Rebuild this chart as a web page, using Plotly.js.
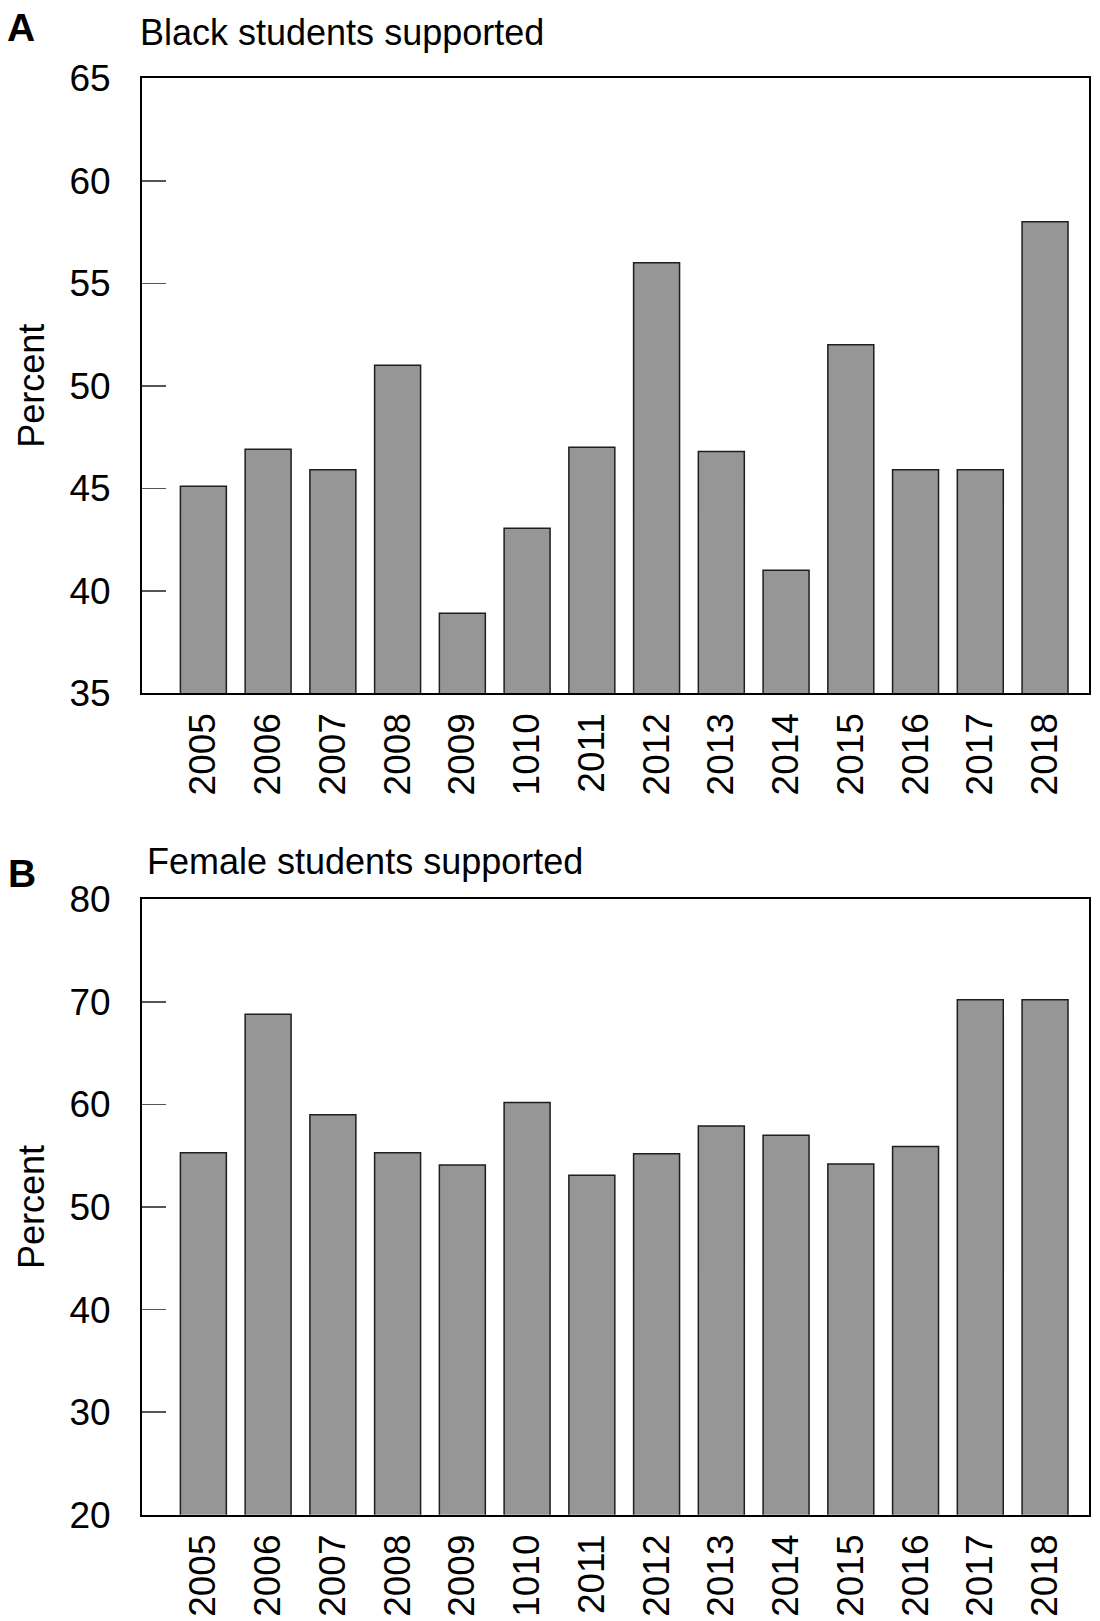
<!DOCTYPE html>
<html>
<head>
<meta charset="utf-8">
<script src="https://cdn.plot.ly/plotly-3.0.1.min.js"></script>
<style>
  html, body { margin: 0; padding: 0; background: #fff; }
  #chart { width: 1100px; height: 1621px; }
</style>
</head>
<body>
<div id="chart"></div>
<script>
// Data
const years = ["2005", "2006", "2007", "2008", "2009", "1010", "2011", "2012", "2013", "2014", "2015", "2016", "2017", "2018"];
const blackPct = [45.1, 46.9, 45.9, 51.0, 38.9, 43.05, 47.0, 56.0, 46.8, 41.0, 52.0, 45.9, 45.9, 58.0];
const femalePct = [55.3, 68.8, 59.0, 55.3, 54.1, 60.2, 53.1, 55.2, 57.9, 57.0, 54.2, 55.9, 70.2, 70.2];
const titleA = "Black students supported";
const titleB = "Female students supported";
const yTicksA = [35, 40, 45, 50, 55, 60, 65];
const yTicksB = [20, 30, 40, 50, 60, 70, 80];

const FONT = "Liberation Sans, Arial, Helvetica, sans-serif";
const W = 1100, H = 1621;

const barStyle = {
  color: "#969696",
  line: { color: "#1e1e1e", width: 1.5 }
};

const traces = [
  { type: "bar", x: years, y: blackPct, xaxis: "x", yaxis: "y", marker: barStyle, hoverinfo: "x+y" },
  { type: "bar", x: years, y: femalePct, xaxis: "x2", yaxis: "y2", marker: barStyle, hoverinfo: "x+y" }
];

function xAxis(anchor) {
  return {
    type: "category",
    domain: [142 / W, 1089 / W],
    anchor: anchor,
    range: [-0.948, 13.679],
    showgrid: false, zeroline: false,
    showline: true, linecolor: "#000", linewidth: 2, mirror: true,
    ticks: "", tickangle: -90,
    ticklabelstandoff: 3,
    tickfont: { family: FONT, size: 37, color: "#000" },
    fixedrange: true
  };
}
function yAxis(anchor, domain, range, ticks) {
  return {
    domain: domain,
    anchor: anchor,
    range: range,
    tickvals: ticks,
    ticktext: ticks.map(String),
    showgrid: false, zeroline: false,
    showline: true, linecolor: "#000", linewidth: 2, mirror: true,
    ticks: "inside", ticklen: 24, tickwidth: 1.5, tickcolor: "#555",
    ticklabelstandoff: 22,
    tickfont: { family: FONT, size: 37, color: "#000" },
    title: { text: "Percent", font: { family: FONT, size: 36, color: "#000" }, standoff: 14 },
    fixedrange: true
  };
}

const domA = [1 - 693.3 / H, 1 - 78.3 / H];
const domB = [1 - 1514.7 / H, 1 - 899.3 / H];

const layout = {
  width: W, height: H,
  margin: { l: 0, r: 0, t: 0, b: 0 },
  paper_bgcolor: "#fff", plot_bgcolor: "#fff",
  showlegend: false,
  bargap: 0.29,
  font: { family: FONT, color: "#000" },
  xaxis: xAxis("y"),
  yaxis: yAxis("x", domA, [35, 65], yTicksA),
  xaxis2: xAxis("y2"),
  yaxis2: yAxis("x2", domB, [20, 80], yTicksB),
  annotations: [
    { text: "<b>A</b>", xref: "paper", yref: "paper", x: 5 / W, y: 1 - 28 / H,
      xanchor: "left", yanchor: "middle", showarrow: false,
      font: { family: FONT, size: 39, color: "#000" } },
    { text: titleA, xref: "paper", yref: "paper", x: 138 / W, y: 1 - 33 / H,
      xanchor: "left", yanchor: "middle", showarrow: false,
      font: { family: FONT, size: 36, color: "#000" } },
    { text: "<b>B</b>", xref: "paper", yref: "paper", x: 6 / W, y: 1 - 873 / H,
      xanchor: "left", yanchor: "middle", showarrow: false,
      font: { family: FONT, size: 39, color: "#000" } },
    { text: titleB, xref: "paper", yref: "paper", x: 144.5 / W, y: 1 - 861 / H,
      xanchor: "left", yanchor: "middle", showarrow: false,
      font: { family: FONT, size: 36, color: "#000" } }
  ]
};

Plotly.newPlot("chart", traces, layout, { staticPlot: true, displayModeBar: false });
</script>
</body>
</html>
